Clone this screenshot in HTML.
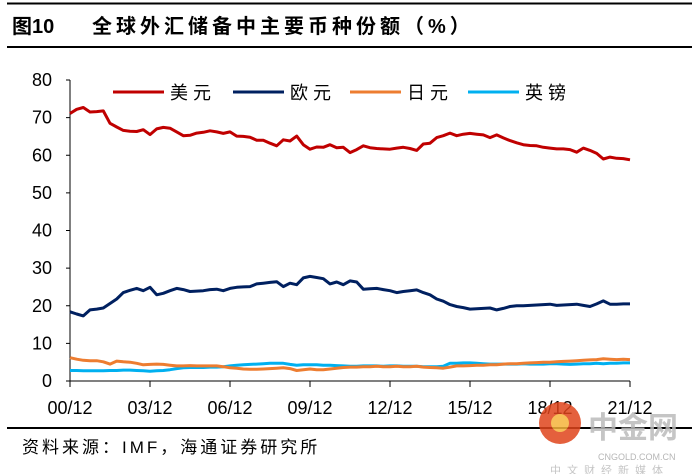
<!DOCTYPE html>
<html><head><meta charset="utf-8">
<style>
body{margin:0;background:#fff;width:698px;height:474px;overflow:hidden;font-family:"Liberation Sans","Noto Sans CJK SC",sans-serif;}
svg{display:block}
</style></head>
<body>
<svg id="chart" width="698" height="474" viewBox="0 0 698 474">
<line x1="7" y1="3.5" x2="692" y2="3.5" stroke="#000" stroke-width="2"/>
<text x="12" y="33" font-size="20" font-weight="bold" fill="#000" font-family="Liberation Sans, Noto Sans CJK SC, sans-serif"><tspan>图10</tspan><tspan x="92" letter-spacing="4">全球外汇储备中主要币种份额（%）</tspan></text>
<line x1="7" y1="47" x2="692" y2="47" stroke="#000" stroke-width="2"/>
<line x1="7" y1="428" x2="692" y2="428" stroke="#000" stroke-width="2"/>
<text x="22" y="453" font-size="17" fill="#000" letter-spacing="3">资料来源：IMF，海通证券研究所</text>
<g id="axes"></g>
<g id="series"></g>
<g id="legend"></g>
<g opacity="0.85">
<circle cx="560" cy="423" r="21" fill="#e0451c"/>
<circle cx="560" cy="423" r="9" fill="#f6b43c"/>
<text x="588" y="438" font-size="30" font-weight="bold" fill="#bbb">中金网</text>
<text x="598" y="460" font-size="9" fill="#aaa">CNGOLD.COM.CN</text>
<text x="550" y="474" font-size="11" fill="#bbb" letter-spacing="6">中文财经新媒体</text>
</g>
</svg>
<script>
const xTicks = ["00/12","03/12","06/12","09/12","12/12","15/12","18/12","21/12"];
const yTicks = [0,10,20,30,40,50,60,70,80];
const usd = [71.1,72.2,72.7,71.5,71.6,71.8,68.5,67.5,66.6,66.4,66.3,66.8,65.5,67.0,67.4,67.2,66.2,65.2,65.3,65.9,66.1,66.5,66.2,65.8,66.2,65.1,65.0,64.8,64.0,64.0,63.2,62.5,64.1,63.8,65.1,62.8,61.6,62.2,62.1,62.8,62.0,62.1,60.7,61.5,62.5,62.0,61.8,61.7,61.6,61.9,62.1,61.8,61.3,63.0,63.2,64.7,65.2,65.9,65.2,65.6,65.8,65.6,65.4,64.7,65.4,64.6,63.9,63.3,62.8,62.6,62.5,62.1,61.9,61.7,61.7,61.5,60.8,61.9,61.3,60.5,59.0,59.5,59.2,59.1,58.8];
const eur = [18.4,17.8,17.3,18.9,19.1,19.4,20.6,21.8,23.5,24.1,24.6,24.0,24.9,22.9,23.3,24.0,24.6,24.3,23.8,23.9,24.0,24.3,24.4,24.0,24.6,24.9,25.0,25.1,25.8,26.0,26.2,26.4,25.1,26.0,25.6,27.4,27.8,27.5,27.2,25.8,26.3,25.6,26.6,26.3,24.4,24.5,24.6,24.3,24.0,23.5,23.8,24.0,24.2,23.5,22.9,21.8,21.2,20.3,19.8,19.5,19.1,19.2,19.3,19.4,18.9,19.3,19.8,20.0,20.0,20.1,20.2,20.3,20.4,20.1,20.2,20.3,20.4,20.1,19.8,20.5,21.3,20.4,20.4,20.5,20.5];
const jpy = [6.2,5.8,5.5,5.4,5.4,5.1,4.5,5.3,5.1,5.0,4.7,4.3,4.4,4.5,4.4,4.2,4.0,4.0,4.1,4.0,4.0,4.0,4.0,3.8,3.5,3.4,3.2,3.1,3.1,3.2,3.3,3.4,3.5,3.3,2.8,3.0,3.2,3.0,3.0,3.2,3.4,3.6,3.7,3.7,3.8,3.8,3.9,3.8,3.8,3.9,3.8,3.8,3.9,3.7,3.6,3.5,3.4,3.7,4.0,4.0,4.1,4.2,4.2,4.3,4.3,4.5,4.6,4.6,4.7,4.8,4.9,5.0,5.0,5.1,5.2,5.3,5.4,5.5,5.6,5.7,5.9,5.8,5.7,5.8,5.7];
const gbp = [2.8,2.8,2.7,2.7,2.7,2.7,2.8,2.8,2.9,2.9,2.8,2.7,2.6,2.7,2.8,3.0,3.3,3.5,3.6,3.6,3.6,3.7,3.7,3.8,4.0,4.2,4.3,4.4,4.5,4.6,4.7,4.7,4.7,4.4,4.2,4.3,4.3,4.3,4.2,4.2,4.1,4.0,3.9,3.9,4.0,4.0,4.0,3.9,4.0,4.0,3.9,3.9,3.9,3.8,3.8,3.8,3.9,4.7,4.7,4.8,4.8,4.7,4.6,4.5,4.5,4.5,4.5,4.5,4.6,4.5,4.5,4.5,4.6,4.6,4.5,4.4,4.5,4.6,4.6,4.7,4.6,4.7,4.7,4.8,4.8];
const seriesNames = ["美元","欧元","日元","英镑"];

const NS="http://www.w3.org/2000/svg";
const X0=70,X1=630,Y0=381,Y1=80,NQ=84;
function xs(i){return X0+(X1-X0)*i/NQ;}
function ys(v){return Y0-(Y0-Y1)*v/80;}
function mk(tag,attrs,parent){const e=document.createElementNS(NS,tag);for(const k in attrs)e.setAttribute(k,attrs[k]);parent.appendChild(e);return e;}
const axes=document.getElementById('axes');
const ya=mk('line',{x1:X0,y1:Y1,x2:X0,y2:Y0,stroke:'#000','stroke-width':1},axes);


const xa=mk('line',{x1:X0,y1:Y0,x2:X1,y2:Y0,stroke:'#000','stroke-width':1},axes);


yTicks.forEach(v=>{
  const t=mk('line',{x1:X0-4,y1:ys(v),x2:X0,y2:ys(v),stroke:'#000'},axes);
  
  
  const l=mk('text',{x:X0-18,y:ys(v)+6,'font-size':18,'text-anchor':'end',fill:'#000'},axes);
  l.textContent=v;
  
  
});
xTicks.forEach((s,i)=>{
  const x=xs(i*12);
  const t=mk('line',{x1:x,y1:Y0,x2:x,y2:Y0+6,stroke:'#000'},axes);
  
  
  const l=mk('text',{x:x,y:414,'font-size':18,'text-anchor':'middle',fill:'#000'},axes);
  l.textContent=s;
  
  
});
const colors=['#c00000','#002060','#ed7d31','#00b0f0'];
const data=[usd,eur,jpy,gbp];
const sg=document.getElementById('series');
[3,2,1,0].forEach(k=>{
  const d=data[k].map((v,i)=>(i?'L':'M')+xs(i).toFixed(1)+','+ys(v).toFixed(1)).join(' ');
  const p=mk('path',{d:d,fill:'none',stroke:colors[k],'stroke-width':3,'stroke-linejoin':'round'},sg);
  
  
});
const lg=document.getElementById('legend');
const lx=[113,233,350,468];
seriesNames.forEach((n,k)=>{
  const l=mk('line',{x1:lx[k],y1:92,x2:lx[k]+51,y2:92,stroke:colors[k],'stroke-width':3},lg);
  
  
  const t=mk('text',{x:lx[k]+57,y:99,'font-size':18,fill:'#000','letter-spacing':5},lg);
  t.textContent=n;
  
  
});
</script>
</body></html>
